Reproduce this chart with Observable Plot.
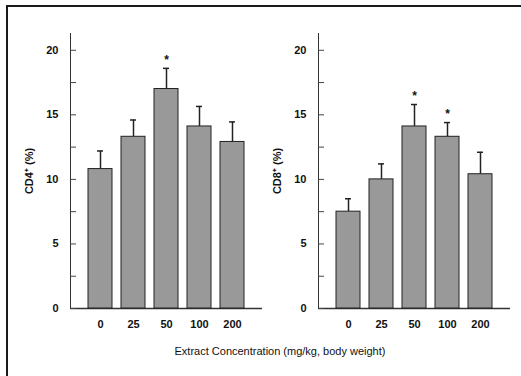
<!DOCTYPE html>
<html>
<head>
<meta charset="utf-8">
<script src="https://cdn.jsdelivr.net/npm/d3@7"></script>
<script src="https://cdn.jsdelivr.net/npm/@observablehq/plot@0.6"></script>
<style>
  html, body { margin: 0; padding: 0; background: #fff; }
  body { width: 521px; height: 376px; position: relative; overflow: hidden; font-family: "Liberation Sans", Arial, sans-serif; }
  #border { position: absolute; left: 6px; top: 5px; width: 600px; height: 500px; border-left: 2px solid #1a1a1a; border-top: 2px solid #1a1a1a; }
  .panel { position: absolute; top: 0; }
  #xlabel { position: absolute; left: 0; width: 560px; top: 345px; text-align: center; font-size: 11px; color: #111; }
</style>
</head>
<body>
<div id="border"></div>
<div id="left" class="panel" style="left:0px"></div>
<div id="right" class="panel" style="left:248px"></div>
<div id="xlabel">Extract Concentration (mg/kg, body weight)</div>
<script>
const doses = ["0", "25", "50", "100", "200"];
const cd4 = [10.8, 13.3, 17.0, 14.1, 12.9];
const cd4Err = [1.4, 1.3, 1.6, 1.55, 1.55];
const cd4Sig = [false, false, true, false, false];
const cd8 = [7.5, 10.0, 14.1, 13.3, 10.4];
const cd8Err = [1.0, 1.2, 1.7, 1.1, 1.7];
const cd8Sig = [false, false, true, true, false];
const yTicks = [0, 5, 10, 15, 20];
const yMinorTicks = [0, 2.5, 5, 7.5, 10, 12.5, 15, 17.5, 20];

function panel(values, errs, sig, label) {
  const data = doses.map((d, i) => ({dose: d, v: values[i], e: values[i] + errs[i], s: sig[i]}));
  return Plot.plot({
    width: 270, height: 340,
    marginLeft: 70, marginRight: 8, marginTop: 33, marginBottom: 32,
    style: {fontFamily: "'Liberation Sans', Arial, sans-serif", fontSize: "11.5px", color: "#111", background: "transparent"},
    x: {domain: doses, insetLeft: 13, insetRight: 12, paddingInner: 0.265, paddingOuter: 0.1325, label: null},
    y: {domain: [0, 21.3], label: null},
    marks: [
      Plot.frame({anchor: "left", stroke: "#333"}),
      Plot.ruleY([0], {stroke: "#333", strokeWidth: 1.3}),
      Plot.axisY({ticks: yMinorTicks, tickSize: -6, tickFormat: () => "", stroke: "#444", label: null}),
      Plot.axisY({ticks: yTicks, tickSize: 0, tickPadding: 12, fontWeight: "bold", fontSize: 11,
                  label: label, labelAnchor: "center", labelArrow: "none", labelOffset: 45}),
      Plot.axisX({tickSize: 0, tickPadding: 12, fontWeight: "bold", fontSize: 11, label: null}),
      Plot.ruleX(data, {x: "dose", y1: "v", y2: "e", stroke: "#222", strokeWidth: 1.5}),
      Plot.tickY(data, {x: "dose", y: "e", insetLeft: 9, insetRight: 9, stroke: "#222", strokeWidth: 1.5}),
      Plot.barY(data, {x: "dose", y: "v", fill: "#999", stroke: "#222", strokeWidth: 1}),
      Plot.text(data.filter(d => d.s), {x: "dose", y: "e", text: () => "*", dy: -8, fontSize: 12, fontWeight: "bold", fill: "#111"})
    ]
  });
}

document.getElementById("left").appendChild(panel(cd4, cd4Err, cd4Sig, "CD4⁺ (%)"));
document.getElementById("right").appendChild(panel(cd8, cd8Err, cd8Sig, "CD8⁺ (%)"));
</script>
</body>
</html>
